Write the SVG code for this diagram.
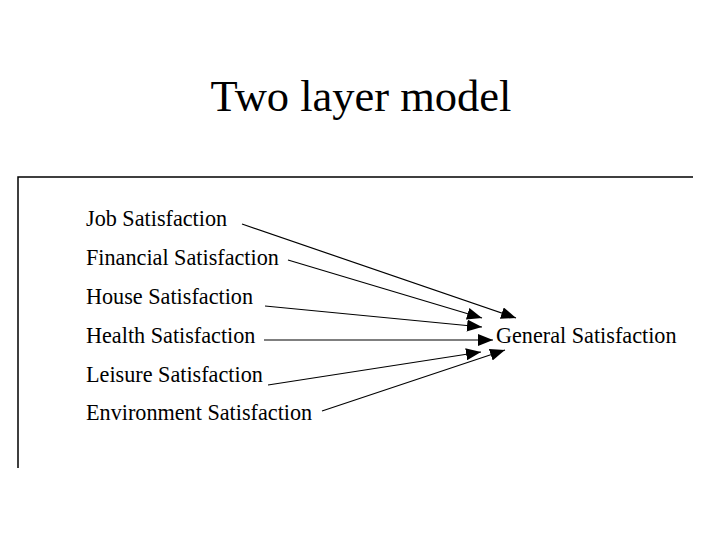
<svg xmlns="http://www.w3.org/2000/svg" width="720" height="540" viewBox="0 0 720 540">
<defs><marker id="a" markerWidth="15" markerHeight="12" refX="15" refY="6" orient="auto" markerUnits="userSpaceOnUse"><path d="M0,0L15,6L0,12Z" fill="#000"/></marker></defs>
<style>text{font-family:"Liberation Serif",serif;fill:#000}.l{font-size:22.2px}line.c{stroke:#000;stroke-width:1.2;marker-end:url(#a)}</style>
<rect width="720" height="540" fill="#fff"/>
<text x="361" y="111" font-size="44.5" text-anchor="middle">Two layer model</text>
<path d="M18,468V177H693" fill="none" stroke="#000" stroke-width="1.5"/>
<g id="n1"><text class="l" x="86" y="226">Job Satisfaction</text></g>
<g id="n2"><text class="l" x="86" y="265">Financial Satisfaction</text></g>
<g id="n3"><text class="l" x="86" y="304">House Satisfaction</text></g>
<g id="n4"><text class="l" x="86" y="343">Health Satisfaction</text></g>
<g id="n5"><text class="l" x="86" y="382">Leisure Satisfaction</text></g>
<g id="n6"><text class="l" x="86" y="420">Environment Satisfaction</text></g>
<g id="g"><text class="l" x="496" y="343">General Satisfaction</text></g>
<g id="connectors">
<line class="c" x1="242" y1="224" x2="516" y2="318"/>
<line class="c" x1="288" y1="260" x2="482" y2="318"/>
<line class="c" x1="265" y1="306" x2="482" y2="327"/>
<line class="c" x1="264" y1="340" x2="493" y2="340"/>
<line class="c" x1="268" y1="385" x2="481" y2="352"/>
<line class="c" x1="322" y1="411" x2="505" y2="350"/>
</g>
</svg>
